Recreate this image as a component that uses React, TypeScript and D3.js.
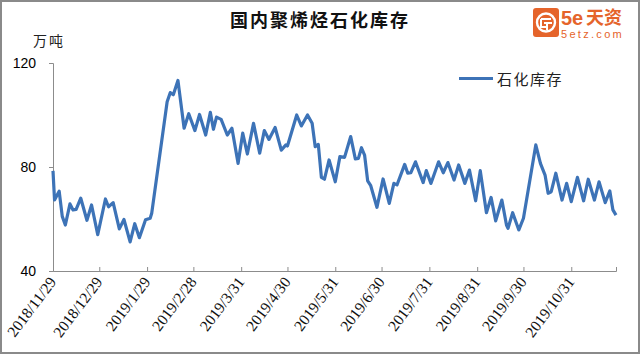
import React, { useRef, useEffect } from "react";
import * as d3 from "d3";

const dates = [
  "2018-11-29", "2018-11-30", "2018-12-03", "2018-12-05", "2018-12-07", "2018-12-10",
  "2018-12-12", "2018-12-14", "2018-12-17", "2018-12-21", "2018-12-24", "2018-12-28",
  "2019-01-02", "2019-01-04", "2019-01-07", "2019-01-11", "2019-01-14", "2019-01-18",
  "2019-01-21", "2019-01-24", "2019-01-28", "2019-01-31", "2019-02-01", "2019-02-11",
  "2019-02-13", "2019-02-15", "2019-02-18", "2019-02-22", "2019-02-25", "2019-03-01",
  "2019-03-04", "2019-03-08", "2019-03-11", "2019-03-13", "2019-03-15", "2019-03-18",
  "2019-03-22", "2019-03-25", "2019-03-29", "2019-04-01", "2019-04-04", "2019-04-08",
  "2019-04-12", "2019-04-15", "2019-04-18", "2019-04-22", "2019-04-26", "2019-04-29",
  "2019-04-30", "2019-05-06", "2019-05-09", "2019-05-13", "2019-05-16", "2019-05-18",
  "2019-05-20", "2019-05-22", "2019-05-24", "2019-05-27", "2019-05-31", "2019-06-03",
  "2019-06-06", "2019-06-10", "2019-06-13", "2019-06-15", "2019-06-17", "2019-06-19",
  "2019-06-21", "2019-06-23", "2019-06-27", "2019-07-01", "2019-07-05", "2019-07-08",
  "2019-07-10", "2019-07-15", "2019-07-17", "2019-07-19", "2019-07-22", "2019-07-27",
  "2019-07-29", "2019-08-01", "2019-08-02", "2019-08-06", "2019-08-09", "2019-08-12",
  "2019-08-16", "2019-08-19", "2019-08-23", "2019-08-26", "2019-08-30", "2019-09-02",
  "2019-09-06", "2019-09-09", "2019-09-12", "2019-09-16", "2019-09-19", "2019-09-20",
  "2019-09-23", "2019-09-27", "2019-09-30", "2019-10-08", "2019-10-11", "2019-10-14",
  "2019-10-16", "2019-10-18", "2019-10-21", "2019-10-25", "2019-10-28", "2019-10-31",
  "2019-11-04", "2019-11-08", "2019-11-11", "2019-11-15", "2019-11-18", "2019-11-22",
  "2019-11-25", "2019-11-27", "2019-11-29",
];

const stock = [
  78.5, 67.3, 70.7, 61, 57.7, 65.8,
  63.5, 63.7, 68, 59.5, 65.4, 54,
  67.7, 64.7, 66.3, 56.2, 59.8, 51.2,
  58.2, 52.8, 59.7, 60.3, 62.2, 105.1,
  108.6, 107.8, 113.3, 94.9, 100.5, 94,
  100.2, 92.3, 101, 94.5, 99.2, 98.3,
  92.3, 94.9, 81.4, 93, 85, 96.8,
  85.3, 94, 90.6, 95.2, 86.5, 88.5,
  88.1, 100, 95.8, 100, 96.8, 87.8,
  88.7, 76, 75.3, 82.7, 74.3, 84,
  83.7, 91.7, 83.1, 83.3, 87.4, 84.6,
  74.7, 72.8, 64.5, 75.4, 66, 73.7,
  73.1, 81, 77.6, 77.8, 82, 74,
  78.6, 73.7, 75.3, 82, 77.8, 81.7,
  75, 80.8, 73.7, 78.8, 67, 78.6,
  62.4, 68.3, 59.3, 67.3, 57.7, 56.4,
  62.4, 55.8, 60.3, 88.5, 81.4, 76.9,
  69.9, 70.5, 77.6, 67.3, 73.7, 66.7,
  76, 67, 75.3, 67.3, 74.3, 66.3,
  70.8, 63.5, 61.5,
];

const xTickDates = [
  "2018-11-29", "2018-12-29", "2019-01-29", "2019-02-28", "2019-03-31", "2019-04-30",
  "2019-05-31", "2019-06-30", "2019-07-31", "2019-08-31", "2019-09-30", "2019-10-31",
];
const xTickLabels = [
  "2018/11/29", "2018/12/29", "2019/1/29", "2019/2/28", "2019/3/31", "2019/4/30",
  "2019/5/31", "2019/6/30", "2019/7/31", "2019/8/31", "2019/9/30", "2019/10/31",
];
const yTicks = [40, 80, 120];

const seriesName = "石化库存";
const title = "国内聚烯烃石化库存";
const unit = "万吨";

const W = 640;
const H = 354;
const parse = d3.timeParse("%Y-%m-%d");
const CJK = "'Noto Sans CJK SC', sans-serif";
const ORANGE = "#e5642b";
const BLUE = "#3d73b7";

export default function App() {
  const ref = useRef<SVGSVGElement>(null);

  useEffect(() => {
    const svg = d3.select(ref.current);
    svg.selectAll("*").remove();

    const left = 53, right = 616, top = 63, bottom = 271;
    const x = d3
      .scaleTime()
      .domain([parse("2018-11-29")!, parse("2019-11-29")!])
      .range([left, right]);
    const y = d3.scaleLinear().domain([40, 120]).range([bottom, top]);

    svg.append("rect")
      .attr("x", 1).attr("y", 1)
      .attr("width", W - 2).attr("height", H - 2)
      .attr("fill", "#fff")
      .attr("stroke", "#8a8a8a")
      .attr("stroke-width", 2);

    // title + unit
    svg.append("text")
      .attr("x", 320).attr("y", 27)
      .attr("text-anchor", "middle")
      .attr("font-family", CJK)
      .attr("font-size", 18)
      .attr("font-weight", "bold")
      .attr("letter-spacing", 2)
      .attr("fill", "#111")
      .text(title);
    svg.append("text")
      .attr("x", 33).attr("y", 46)
      .attr("font-family", CJK)
      .attr("font-size", 14)
      .attr("letter-spacing", 2)
      .attr("fill", "#222")
      .text(unit);

    // y axis
    const gy = svg.append("g")
      .attr("transform", `translate(${left},0)`)
      .call(d3.axisLeft(y).tickValues(yTicks).tickSize(4).tickPadding(13).tickFormat(d3.format("d")));
    gy.select(".domain").attr("stroke", "#8c8c8c");
    gy.selectAll(".tick line").attr("stroke", "#8c8c8c");
    gy.selectAll(".tick text")
      .attr("font-family", "'Liberation Sans', Arial, sans-serif")
      .attr("font-size", 14)
      .attr("fill", "#000");

    // x axis, ticks pointing up
    const tickDates = xTickDates.map((d) => parse(d)!);
    const gx = svg.append("g")
      .attr("transform", `translate(0,${bottom})`)
      .call(d3.axisBottom(x).tickValues(tickDates).tickSizeInner(-4).tickSizeOuter(-4).tickFormat(() => ""));
    gx.select(".domain").attr("stroke", "#8c8c8c");
    gx.selectAll(".tick line").attr("stroke", "#8c8c8c");

    svg.append("g")
      .selectAll("text")
      .data(tickDates)
      .join("text")
      .attr("transform", (d) => `translate(${x(d) + 4},${bottom + 11}) rotate(-53)`)
      .attr("text-anchor", "end")
      .attr("font-family", "'Liberation Serif', 'Times New Roman', serif")
      .attr("font-size", 15.5)
      .attr("fill", "#111")
      .text((_, i) => xTickLabels[i]);

    // series
    const pts = dates.map((d, i) => ({ date: parse(d)!, v: stock[i] }));
    const line = d3.line<{ date: Date; v: number }>()
      .x((d) => x(d.date))
      .y((d) => y(d.v));
    svg.append("path")
      .datum(pts)
      .attr("fill", "none")
      .attr("stroke", BLUE)
      .attr("stroke-width", 3.2)
      .attr("stroke-linejoin", "round")
      .attr("d", line);

    // legend
    svg.append("line")
      .attr("x1", 459).attr("x2", 493)
      .attr("y1", 78.5).attr("y2", 78.5)
      .attr("stroke", BLUE)
      .attr("stroke-width", 3);
    svg.append("text")
      .attr("x", 497).attr("y", 85)
      .attr("font-family", CJK)
      .attr("font-size", 15)
      .attr("letter-spacing", 1.5)
      .attr("fill", "#222")
      .text(seriesName);

    // logo
    const logo = svg.append("g");
    logo.append("rect")
      .attr("x", 533).attr("y", 8)
      .attr("width", 26).attr("height", 29)
      .attr("rx", 3)
      .attr("fill", ORANGE);
    logo.append("circle")
      .attr("cx", 546).attr("cy", 22.5).attr("r", 9)
      .attr("fill", "none").attr("stroke", "#fff").attr("stroke-width", 2.4);
    logo.append("path")
      .attr("d", "M541,19 H551 M541,19 V27 H547 M544,23 H552 M547,23 V30")
      .attr("fill", "none").attr("stroke", "#fff").attr("stroke-width", 2);
    logo.append("text")
      .attr("x", 561).attr("y", 25)
      .attr("font-family", "'Liberation Sans', Arial, sans-serif")
      .attr("font-size", 20)
      .attr("font-weight", "bold")
      .attr("fill", ORANGE)
      .text("5e");
    logo.append("text")
      .attr("x", 586).attr("y", 24)
      .attr("font-family", CJK)
      .attr("font-size", 18)
      .attr("font-weight", "bold")
      .attr("fill", ORANGE)
      .text("天资");
    logo.append("text")
      .attr("x", 561).attr("y", 38)
      .attr("font-family", "'Liberation Sans', Arial, sans-serif")
      .attr("font-size", 11)
      .attr("letter-spacing", 2.3)
      .attr("fill", ORANGE)
      .text("5etz.com");
  }, []);

  return (
    <div style={{ position: "fixed", left: 0, top: 0 }}>
      <svg ref={ref} width={W} height={H} style={{ display: "block" }} />
    </div>
  );
}
